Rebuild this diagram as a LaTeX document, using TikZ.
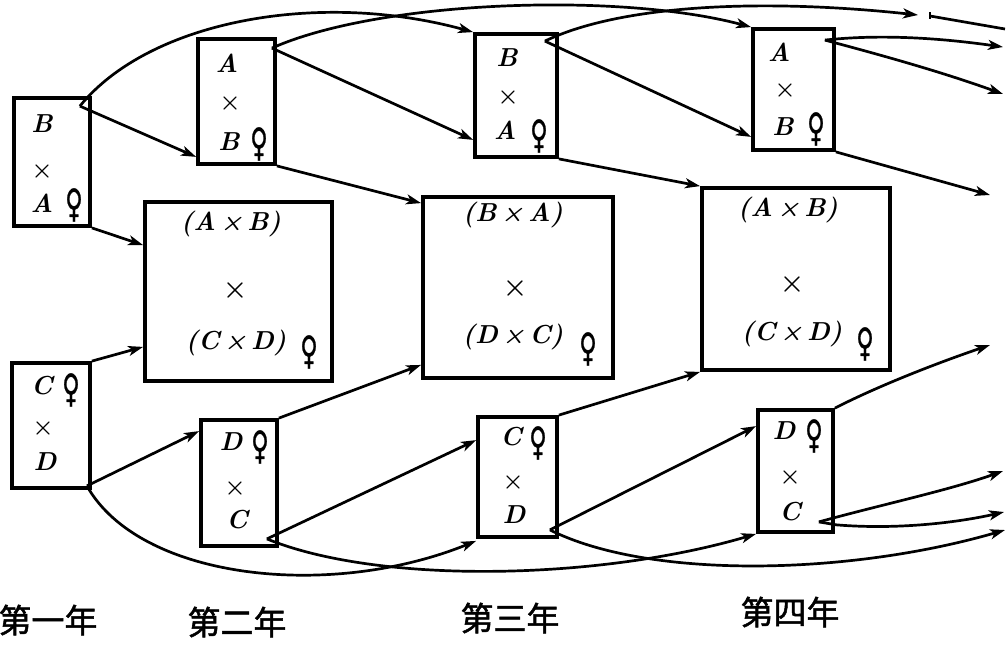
\documentclass[tikz,border=0pt]{standalone}
\usepackage{fontspec}
\newfontfamily\cjk[FakeBold=1.5]{Noto Sans CJK SC}
\newfontfamily\symf[FakeBold=1]{DejaVu Sans}
\usetikzlibrary{arrows.meta,calc}
\newcommand\femsign{\scalebox{0.62}[1]{♀}}
\tikzset{
  box/.style={draw, line width=3.8pt, inner sep=0pt},
  conn/.style={line width=2.7pt, -{Stealth[length=15pt,width=10pt,inset=4pt]}},
  plainline/.style={line width=2.7pt},
  letter/.style={font=\fontsize{26}{26}\selectfont\bfseries\itshape, inner sep=0pt},
  cross/.style={font=\fontsize{24}{24}\selectfont\bfseries, inner sep=0pt},
  bigcross/.style={font=\fontsize{28}{28}\selectfont\bfseries, inner sep=0pt},
  fem/.style={font=\fontsize{39}{39}\symf, inner sep=0pt},
  yearlbl/.style={font=\fontsize{33}{33}\cjk, inner sep=0pt},
}
\begin{document}
\begin{tikzpicture}[x=1pt,y=-1pt]
\useasboundingbox (0,0) rectangle (1008,645);

% ---- boxes ----
\node[box, minimum width=76pt, minimum height=128pt] (B1) at (52,162) {};
\node[box, minimum width=78pt, minimum height=125pt] (C1) at (51,425.5) {};
\node[box, minimum width=77pt, minimum height=125pt] (A2) at (236.5,101.5) {};
\node[box, minimum width=76pt, minimum height=126pt] (D2) at (239,483) {};
\node[box, minimum width=82pt, minimum height=123pt] (B3) at (516,95.5) {};
\node[box, minimum width=79pt, minimum height=120pt] (C3) at (517.5,477) {};
\node[box, minimum width=81pt, minimum height=121pt] (A4) at (793.5,89.5) {};
\node[box, minimum width=75pt, minimum height=122pt] (D4) at (795.5,471) {};
\node[box, minimum width=187pt, minimum height=179pt] (G2) at (238.5,291.5) {};
\node[box, minimum width=190pt, minimum height=181pt] (G3) at (518,287.5) {};
\node[box, minimum width=188pt, minimum height=182pt] (G4) at (796,279) {};

% ---- texts in small boxes ----
\node[letter] (B1a) at (42,124) {B};
\node[cross]  (B1x) at (42,171) {×};
\node[letter] (B1b) at (42,203) {A};
\node[fem]    (B1f) at (74,205) {\femsign};

\node[letter] (C1a) at (42,386) {C};
\node[fem]    (C1f) at (71,390) {\femsign};
\node[cross]  (C1x) at (43,428) {×};
\node[letter] (C1b) at (45,462) {D};

\node[letter] (A2a) at (227,63) {A};
\node[cross]  (A2x) at (230,103) {×};
\node[letter] (A2b) at (229,142) {B};
\node[fem]    (A2f) at (259,144) {\femsign};

\node[letter] (D2a) at (231,442) {D};
\node[fem]    (D2f) at (260,447) {\femsign};
\node[cross]  (D2x) at (235,488) {×};
\node[letter] (D2b) at (237,520) {C};

\node[letter] (B3a) at (507,58) {B};
\node[cross]  (B3x) at (508,97) {×};
\node[letter] (B3b) at (505,130) {A};
\node[fem]    (B3f) at (539,136) {\femsign};

\node[letter] (C3a) at (511,437) {C};
\node[fem]    (C3f) at (538,443) {\femsign};
\node[cross]  (C3x) at (513,482) {×};
\node[letter] (C3b) at (514,515) {D};

\node[letter] (A4a) at (779,52) {A};
\node[cross]  (A4x) at (785,90) {×};
\node[letter] (A4b) at (783,127) {B};
\node[fem]    (A4f) at (816,129) {\femsign};

\node[letter] (D4a) at (784,431) {D};
\node[fem]    (D4f) at (814,436) {\femsign};
\node[cross]  (D4x) at (790,477) {×};
\node[letter] (D4b) at (790,512) {C};

% ---- texts in big boxes ----
\node[letter] (G2a) at (231,224) {(A\,×\,B)};
\node[bigcross] (G2x) at (235,290) {×};
\node[letter] (G2b) at (236,343) {(C\,×\,D)};
\node[fem]    (G2f) at (309,352) {\femsign};

\node[letter] (G3a) at (513,215) {(B\,×\,A)};
\node[bigcross] (G3x) at (515,288) {×};
\node[letter] (G3b) at (513,337) {(D\,×\,C)};
\node[fem]    (G3f) at (588,349) {\femsign};

\node[letter] (G4a) at (788,210) {(A\,×\,B)};
\node[bigcross] (G4x) at (792,284) {×};
\node[letter] (G4b) at (792,334) {(C\,×\,D)};
\node[fem]    (G4f) at (865,344) {\femsign};

% ---- year labels ----
\node[yearlbl] (Y1) at (48,620) {第一年};
\node[yearlbl] (Y2) at (237,622) {第二年};
\node[yearlbl] (Y3) at (510,618) {第三年};
\node[yearlbl] (Y4) at (790,612) {第四年};

% ---- notch points ----
\coordinate (nB1) at ($(B1.north east)+(-12,10)$);
\coordinate (nA2) at ($(A2.north east)+(-5,11)$);
\coordinate (nB3) at ($(B3.north east)+(-14,9)$);
\coordinate (nA4) at ($(A4.north east)+(-11,13)$);
\coordinate (nC1) at ($(C1.south east)+(-5,-4)$);
\coordinate (nD2) at ($(D2.south east)+(-12,-9)$);
\coordinate (nC3) at ($(C3.south east)+(-9,-9)$);
\coordinate (nD4) at ($(D4.south east)+(-16,-12)$);

% free ends at right edge
\coordinate (eT1) at (918,15);
\coordinate (eT1b) at (930,16);
\coordinate (eT2) at (1005,29);
\coordinate (eA1) at (1003,47);
\coordinate (eA2) at (1003,94);
\coordinate (eA3) at (990,195);
\coordinate (eD1) at (990,345);
\coordinate (eD2) at (1003,471);
\coordinate (eD3) at (1004,512);
\coordinate (eC3) at (1005,530);

% ---- top row connectors ----
\draw[conn] (nB1) -- ($(A2.south west)+(0,-9)$);
\draw[conn] (nB1) .. controls (150,20) and (320,-10) .. (B3.north west);
\draw[conn] (B1.south east) -- ($(G2.north west)+(0,45)$);
\draw[conn] (nA2) -- ($(B3.south west)+(0,-19)$);
\draw[conn] (nA2) .. controls (380,0) and (620,-8) .. (A4.north west);
\draw[conn] (A2.south east) -- ($(G3.north west)+(0,8)$);
\draw[conn] (nB3) -- ($(A4.south west)+(0,-15)$);
\draw[conn] (nB3) .. controls (620,5) and (760,-2) .. (eT1);
\draw[plainline] ($(eT1b)+(0,-4)$) -- ($(eT1b)+(0,3)$);
\draw[plainline] (eT1b) -- (eT2);
\draw[conn] (B3.south east) -- (G4.north west);
\draw[conn] (nA4) .. controls (880,34) and (940,38) .. (eA1);
\draw[conn] (nA4) .. controls (900,60) and (950,75) .. (eA2);
\draw[conn] (A4.south east) -- (eA3);

% ---- bottom row connectors ----
\draw[conn] (C1.north east) -- ($(G2.south west)+(0,-36)$);
\draw[conn] (nC1) -- ($(D2.north west)+(0,13)$);
\draw[conn] (nC1) .. controls (140,580) and (330,600) .. ($(C3.south west)+(0,2)$);
\draw[conn] (D2.north east) -- ($(G3.south west)+(0,-15)$);
\draw[conn] (nD2) -- ($(C3.north west)+(0,25)$);
\draw[conn] (nD2) .. controls (380,585) and (600,580) .. (D4.south west);
\draw[conn] (C3.north east) -- (G4.south west);
\draw[conn] (nC3) -- ($(D4.north west)+(0,18)$);
\draw[conn] (nC3) .. controls (650,580) and (850,575) .. (eC3);
\draw[conn] (D4.north east) .. controls (880,385) and (940,362) .. (eD1);
\draw[conn] (nD4) .. controls (880,505) and (950,490) .. (eD2);
\draw[conn] (nD4) -- ($(D4.south east)+(2,-9)$) .. controls (900,530) and (960,522) .. (eD3);
\end{tikzpicture}
\end{document}
